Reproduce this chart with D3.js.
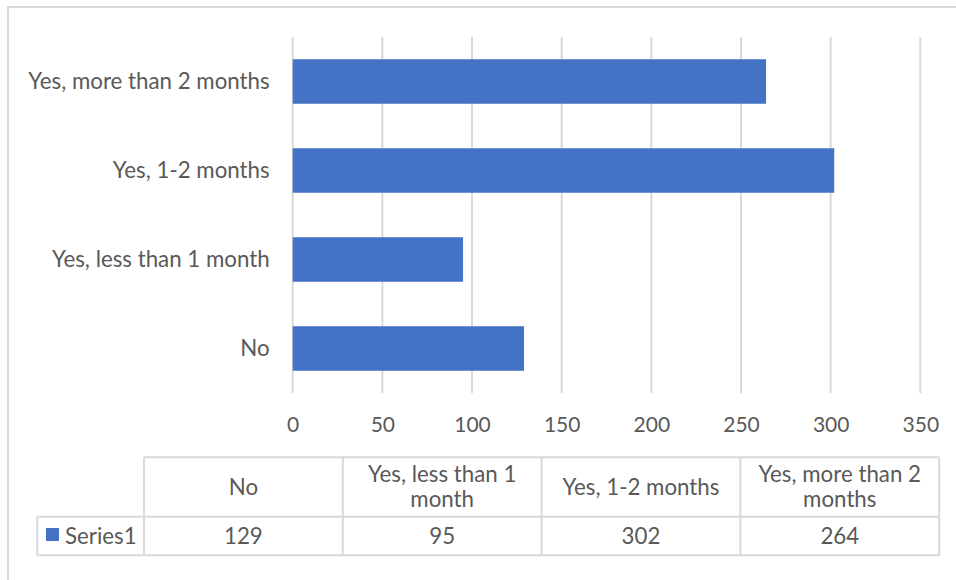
<!DOCTYPE html>
<html>
<head>
<meta charset="utf-8">
<script src="https://cdn.jsdelivr.net/npm/d3@7"></script>
<style>
  html, body { margin: 0; padding: 0; background: #fff; }
  svg { display: block; }
  text { font-family: Lato, "Open Sans", sans-serif; fill: #595959; }
</style>
</head>
<body>
<svg id="chart" width="956" height="580"></svg>
<script>
const categories = ["No", "Yes, less than 1 month", "Yes, 1-2 months", "Yes, more than 2 months"];
const seriesName = "Series1";
const values = [129, 95, 302, 264];
const xTicks = [0, 50, 100, 150, 200, 250, 300, 350];

const W = 956, H = 580;
const svg = d3.select("#chart");
const grid = "#d9d9d9";
const barColor = "#4472c4";
const fs = 22.3;
const fsTick = 21;

// outer chart border
svg.append("rect").attr("x", 8).attr("y", 7).attr("width", 1000).attr("height", 1000)
  .attr("fill", "none").attr("stroke", grid).attr("stroke-width", 2);

const plot = { left: 292.7, right: 920.3, top: 37, bottom: 393 };

const x = d3.scaleLinear().domain([0, 350]).range([plot.left, plot.right]);
const y = d3.scaleBand().domain(categories.slice().reverse())
  .range([plot.top, plot.bottom]).paddingInner(0.5).paddingOuter(0.25);

// gridlines
svg.append("g").selectAll("line").data(xTicks).join("line")
  .attr("x1", d => x(d)).attr("x2", d => x(d))
  .attr("y1", plot.top).attr("y2", plot.bottom)
  .attr("stroke", grid).attr("stroke-width", 2);

// bars
svg.append("g").selectAll("rect").data(categories).join("rect")
  .attr("x", x(0))
  .attr("y", d => y(d))
  .attr("width", (d, i) => x(values[i]) - x(0))
  .attr("height", y.bandwidth())
  .attr("fill", barColor);

// x axis labels
const xAxis = d3.axisBottom(x).tickValues(xTicks).tickSize(0).tickPadding(0);
const gx = svg.append("g").attr("transform", `translate(0, ${plot.bottom + 32})`).call(xAxis);
gx.select(".domain").remove();
gx.selectAll("text").attr("font-size", fsTick).attr("dy", "0.35em").attr("y", 0)
  .style("font-family", "Lato, sans-serif").attr("fill", "#595959");

// y axis labels
const yAxis = d3.axisLeft(y).tickSize(0).tickPadding(0);
const gy = svg.append("g").attr("transform", `translate(${plot.left - 23}, 0)`).call(yAxis);
gy.select(".domain").remove();
gy.selectAll("text").attr("font-size", fs).attr("dy", "0.35em")
  .style("font-family", "Lato, sans-serif").attr("fill", "#595959");

// data table
const tbl = { legendLeft: 37.3, colLeft: 144, colW: 198.8, top: 457.3, mid: 516.7, bottom: 555.3 };
const colX = i => tbl.colLeft + i * tbl.colW;
const tableRight = colX(categories.length);
const tg = svg.append("g");
const lineStyle = s => s.attr("stroke", grid).attr("stroke-width", 2);

// horizontal lines
tg.append("line").attr("x1", tbl.colLeft).attr("x2", tableRight).attr("y1", tbl.top).attr("y2", tbl.top).call(lineStyle);
tg.append("line").attr("x1", tbl.legendLeft).attr("x2", tableRight).attr("y1", tbl.mid).attr("y2", tbl.mid).call(lineStyle);
tg.append("line").attr("x1", tbl.legendLeft).attr("x2", tableRight).attr("y1", tbl.bottom).attr("y2", tbl.bottom).call(lineStyle);
// vertical lines
tg.append("line").attr("x1", tbl.legendLeft).attr("x2", tbl.legendLeft).attr("y1", tbl.mid).attr("y2", tbl.bottom).call(lineStyle);
d3.range(categories.length + 1).forEach(i => {
  tg.append("line").attr("x1", colX(i)).attr("x2", colX(i)).attr("y1", tbl.top).attr("y2", tbl.bottom).call(lineStyle);
});

// header labels with wrapping
categories.forEach((c, i) => {
  const cx = colX(i) + tbl.colW / 2;
  const t = tg.append("text").attr("text-anchor", "middle").attr("font-size", fs).attr("x", cx);
  const words = c.split(" ");
  const lines = [];
  let cur = [];
  const probe = tg.append("text").attr("font-size", fs);
  words.forEach(w => {
    const test = cur.concat([w]).join(" ");
    probe.text(test);
    if (probe.node().getComputedTextLength() > tbl.colW - 16 && cur.length) {
      lines.push(cur.join(" "));
      cur = [w];
    } else {
      cur.push(w);
    }
  });
  lines.push(cur.join(" "));
  probe.remove();
  const midY = (tbl.top + tbl.mid) / 2;
  const lh = 25;
  lines.forEach((ln, j) => {
    t.append("tspan").attr("x", cx)
      .attr("y", midY + (j - (lines.length - 1) / 2) * lh)
      .attr("dy", "0.35em").text(ln);
  });
});

// values row
const rowMid = (tbl.mid + tbl.bottom) / 2;
values.forEach((v, i) => {
  tg.append("text").attr("text-anchor", "middle").attr("font-size", fs)
    .attr("x", colX(i) + tbl.colW / 2).attr("y", rowMid).attr("dy", "0.35em").text(v);
});

// legend key in table
tg.append("rect").attr("x", 46).attr("y", 528).attr("width", 13).attr("height", 13).attr("fill", barColor);
tg.append("text").attr("x", 65).attr("y", rowMid).attr("dy", "0.35em").attr("font-size", fs).text(seriesName);
</script>
</body>
</html>
